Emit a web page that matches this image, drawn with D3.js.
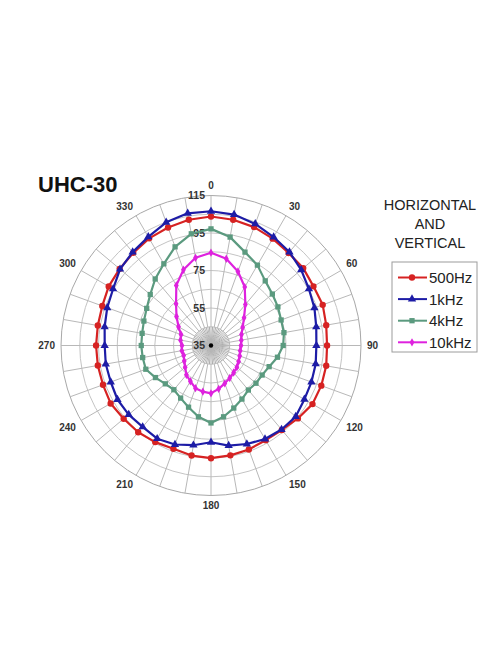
<!DOCTYPE html>
<html>
<head>
<meta charset="utf-8">
<script src="https://cdn.jsdelivr.net/npm/d3@7"></script>
<style>
  body { margin: 0; background: #fff; }
  text { font-family: "Liberation Sans", Arial, sans-serif; }
</style>
</head>
<body>
<svg id="chart"></svg>
<script>
// angles (degrees, clockwise from top) of the measured points
const angles = [0, 10, 20, 30, 40, 50, 60, 70, 80, 90, 100, 110, 120, 130, 140, 150, 160, 170,
  180, 190, 200, 210, 220, 230, 240, 250, 260, 270, 280, 290, 300, 310, 320, 330, 340, 350];
const angleTicks = [0, 30, 60, 90, 120, 150, 180, 210, 240, 270, 300, 330];
const rings = [45, 55, 65, 75, 85, 95, 105, 115];
const ringLabels = [35, 55, 75, 95, 115];

const seriesNames = ['500Hz', '1kHz', '4kHz', '10kHz'];
const hz500 = [103.8, 103.1, 102.2, 100.8, 99.4, 99.2, 98.1, 98.4, 97.4, 96.9, 97.4, 97.6, 97.5, 95.5,
  93.8, 93.3, 94.0, 94.5, 95.1, 94.6, 93.6, 94.5, 95.4, 95.8, 96.8, 96.3, 96.3, 96.3, 96.3, 96.7,
  98.0, 98.6, 99.5, 101.0, 102.0, 103.1];
const khz1 = [106.6, 105.9, 104.0, 101.8, 100.1, 97.8, 95.3, 93.7, 92.0, 91.2, 91.7, 92.0, 92.5, 94.0,
  93.5, 92.6, 90.9, 89.2, 86.6, 89.0, 91.2, 92.4, 91.7, 92.3, 92.6, 91.9, 92.0, 91.7, 92.6, 93.9,
  95.3, 98.3, 100.0, 101.9, 104.9, 106.6];
const khz4 = [97.2, 93.7, 88.0, 84.5, 80.0, 77.7, 76.2, 74.8, 74.5, 73.5, 71.0, 68.0, 66.5, 66.3,
  66.0, 68.0, 70.5, 73.6, 76.3, 73.6, 70.0, 67.4, 65.8, 66.8, 69.2, 72.0, 72.0, 72.2, 72.3, 73.1,
  74.6, 77.3, 81.3, 85.3, 91.0, 95.5];
const khz10 = [84.5, 82.0, 77.0, 71.0, 63.5, 58.0, 54.5, 52.3, 51.4, 51.0, 50.8, 51.3, 52.0, 53.0,
  53.8, 55.0, 56.5, 58.5, 60.5, 60.0, 59.2, 57.0, 55.4, 53.0, 51.5, 50.5, 50.8, 50.5, 51.5, 52.0,
  55.0, 59.0, 64.0, 72.0, 78.0, 82.5];

const colors = ['#d62222', '#1d1ca6', '#5b9a7f', '#de22de'];
const symbols = [d3.symbolCircle, d3.symbolTriangle, d3.symbolSquare, d3.symbolDiamond];
const symbolSizes = [32, 30, 28, 20];

const width = 496, height = 664;
const cx = 211, cy = 345.5, R = 150;

const svg = d3.select('#chart').attr('width', width).attr('height', height);

const rScale = d3.scaleLinear().domain([35, 115]).range([0, R]);
const aScale = d3.scaleLinear().domain([0, 360]).range([0, 2 * Math.PI]);

const chart = svg.append('g').attr('transform', `translate(${cx},${cy})`);

// grid: rings
chart.selectAll('.ring')
  .data(rings)
  .join('circle')
  .attr('class', 'ring')
  .attr('r', d => rScale(d))
  .attr('fill', 'none')
  .attr('stroke', (d, i) => i === rings.length - 1 ? '#a8a8a8' : '#c4c4c4')
  .attr('stroke-width', 1);

// dense spokes inside the first ring
chart.selectAll('.inner-spoke')
  .data(angles)
  .join('line')
  .attr('class', 'inner-spoke')
  .attr('x2', d => d3.pointRadial(aScale(d + 5), rScale(rings[0]))[0])
  .attr('y2', d => d3.pointRadial(aScale(d + 5), rScale(rings[0]))[1])
  .attr('stroke', '#9a9a9a')
  .attr('stroke-width', 0.8);

// spokes
chart.selectAll('.spoke')
  .data(angles)
  .join('line')
  .attr('class', 'spoke')
  .attr('x2', d => d3.pointRadial(aScale(d), R)[0])
  .attr('y2', d => d3.pointRadial(aScale(d), R)[1])
  .attr('stroke', '#b8b8b8')
  .attr('stroke-width', 1);

chart.append('circle').attr('r', 2.2).attr('fill', '#000');

// ring value labels, up the 0 axis
chart.selectAll('.ring-label')
  .data(ringLabels)
  .join('text')
  .attr('class', 'ring-label')
  .attr('x', -6)
  .attr('y', d => -rScale(d))
  .attr('dy', '0.35em')
  .attr('text-anchor', 'end')
  .attr('font-size', 10.5)
  .attr('font-weight', 'bold')
  .attr('fill', '#333')
  .text(d => d);

// angle labels, box corner touching a circle just outside the plot
const labelR = R + 6;
chart.selectAll('.angle-label')
  .data(angleTicks)
  .join('text')
  .attr('class', 'angle-label')
  .attr('x', d => {
    const s = Math.sin(aScale(d));
    const w = String(d).length * 5.6;
    return labelR * s + (Math.abs(s) > 0.1 ? Math.sign(s) * w / 2 : 0);
  })
  .attr('y', d => {
    const c = Math.cos(aScale(d));
    return -labelR * c - (Math.abs(c) > 0.1 ? Math.sign(c) * 4 : 0);
  })
  .attr('dy', '0.35em')
  .attr('text-anchor', 'middle')
  .attr('font-size', 10)
  .attr('font-weight', 'bold')
  .attr('fill', '#333')
  .text(d => d);

// series
const allSeries = [hz500, khz1, khz4, khz10];
const line = d3.lineRadial()
  .angle((d, i) => aScale(angles[i]))
  .radius(d => rScale(d))
  .curve(d3.curveLinearClosed);

allSeries.forEach((vals, k) => {
  const g = chart.append('g').attr('class', 'series');
  g.append('path')
    .attr('d', line(vals))
    .attr('fill', 'none')
    .attr('stroke', colors[k])
    .attr('stroke-width', 2.2)
    .attr('stroke-linejoin', 'round');
  g.selectAll('path.marker')
    .data(vals)
    .join('path')
    .attr('class', 'marker')
    .attr('d', d3.symbol().type(symbols[k]).size(symbolSizes[k]))
    .attr('transform', (d, i) => {
      const p = d3.pointRadial(aScale(angles[i]), rScale(d));
      return `translate(${p[0]},${p[1]})`;
    })
    .attr('fill', colors[k]);
});

// title
svg.append('text')
  .attr('x', 38)
  .attr('y', 192)
  .attr('font-size', 22)
  .attr('font-weight', 'bold')
  .attr('fill', '#111')
  .text('UHC-30');

// legend heading
svg.append('g')
  .selectAll('text')
  .data(['HORIZONTAL', 'AND', 'VERTICAL'])
  .join('text')
  .attr('x', 430)
  .attr('y', (d, i) => 210 + i * 19.2)
  .attr('text-anchor', 'middle')
  .attr('font-size', 14.5)
  .attr('fill', '#222')
  .text(d => d);

// legend box
const legend = svg.append('g').attr('transform', 'translate(392,262)');
legend.append('rect')
  .attr('width', 85)
  .attr('height', 90)
  .attr('fill', '#fff')
  .attr('stroke', '#9c9c9c')
  .attr('stroke-width', 1);

const item = legend.selectAll('.item')
  .data(seriesNames)
  .join('g')
  .attr('class', 'item')
  .attr('transform', (d, i) => `translate(0,${15.5 + i * 21.6})`);

item.append('line')
  .attr('x1', 6)
  .attr('x2', 35)
  .attr('stroke', (d, i) => colors[i])
  .attr('stroke-width', 2);
item.append('path')
  .attr('d', (d, i) => d3.symbol().type(symbols[i]).size(symbolSizes[i])())
  .attr('transform', 'translate(20,0)')
  .attr('fill', (d, i) => colors[i]);
item.append('text')
  .attr('x', 37)
  .attr('dy', '0.36em')
  .attr('font-size', 15)
  .attr('fill', '#222')
  .text(d => d);
</script>
</body>
</html>
